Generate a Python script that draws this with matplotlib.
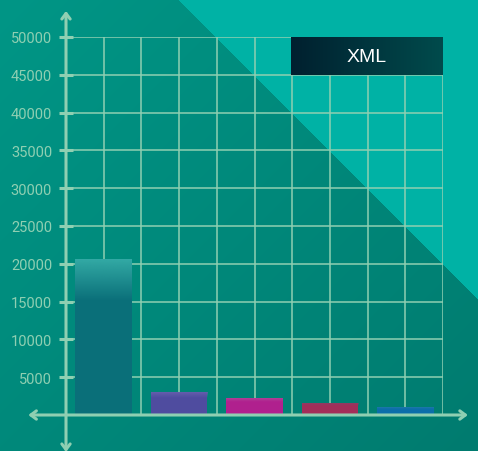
import numpy as np
import matplotlib
matplotlib.use("Agg")
import matplotlib.pyplot as plt
from matplotlib.colors import to_rgb

# datos
series = "XML"
posiciones = [1, 3, 5, 7, 9]
valores = [20700, 3050, 2300, 1550, 1000]
y_ticks = [5000, 10000, 15000, 20000, 25000, 30000, 35000, 40000, 45000, 50000]

colores = ["#0a6f79", "#4f4c9f", "#b0208e", "#a22e59", "#0b6eaa"]
colores_top = ["#36aea8", "#6a62b0", "#b04a9a", "#8a4068", "#2a80a8"]
verde = "#8fcfb2"

W, H = 478, 452
fig = plt.figure(figsize=(W / 100, H / 100), dpi=100)

# fondo con degradado y triangulo diagonal
bg = fig.add_axes([0, 0, 1, 1])
bg.set_axis_off()
yy, xx = np.mgrid[0:H, 0:W]
t = (xx + yy) / (W + H)
c1, c2 = np.array(to_rgb("#009686")), np.array(to_rgb("#007b6f"))
img = c1 * (1 - t[..., None]) + c2 * t[..., None]
img[(xx - yy) > 177] = to_rgb("#00b2a5")
bg.imshow(img, extent=[0, W, H, 0], aspect="auto", interpolation="nearest")
bg.set_xlim(0, W)
bg.set_ylim(H, 0)

ax = fig.add_axes([66 / W, (H - 416) / H, 377 / W, 378 / H])
ax.set_facecolor("none")
ax.set_xlim(0, 10)
ax.set_ylim(0, 50000)
for s in ax.spines.values():
    s.set_visible(False)

ax.set_xticks(range(1, 11))
ax.set_yticks(y_ticks)
ax.grid(True, color=verde, lw=1.1, zorder=1)
ax.set_axisbelow(True)
ax.tick_params(axis="x", length=0, labelbottom=False)
ax.tick_params(axis="y", direction="inout", length=10, width=2.2, color=verde,
               labelcolor=verde, labelsize=10.5, pad=5)
for lb in ax.get_yticklabels():
    lb.set_family("Roboto")

# ejes con flechas
flecha = dict(arrowstyle="<->,head_length=0.4,head_width=0.3", color=verde,
              lw=2.2, shrinkA=0, shrinkB=0)
ax.annotate("", xy=(10.66, 0), xytext=(-1.0, 0), arrowprops=flecha,
            annotation_clip=False, zorder=5)
ax.annotate("", xy=(0, 53450), xytext=(0, -4900), arrowprops=flecha,
            annotation_clip=False, zorder=5)

# barras con degradado en la parte superior
barras = ax.bar(posiciones, valores, width=1.5, color=colores, zorder=3)
for b, ct in zip(barras, colores_top):
    x0, h, w = b.get_x(), b.get_height(), b.get_width()
    prof = 0.27 * h
    n = 64
    grad = np.zeros((n, 1, 4))
    grad[..., :3] = to_rgb(ct)
    grad[:, 0, 3] = np.linspace(0.95, 0, n)
    im = ax.imshow(grad, extent=[x0, x0 + w, h - prof, h], aspect="auto",
                   interpolation="bilinear", zorder=4, origin="upper")
    im.set_clip_path(b)
ax.set_xlim(0, 10)
ax.set_ylim(0, 50000)

# leyenda
leg = fig.add_axes([291 / W, (H - 76) / H, 152 / W, 38 / H])
leg.set_axis_off()
g = np.linspace(0, 1, 100)[None, :, None]
lc1, lc2 = np.array(to_rgb("#00202f")), np.array(to_rgb("#004b4c"))
leg.imshow(lc1 * (1 - g) + lc2 * g, extent=[0, 1, 0, 1], aspect="auto")
leg.text(0.5, 0.5, series, color="white", fontsize=14, family="Liberation Sans",
         ha="center", va="center", transform=leg.transAxes)

fig.savefig("out.png", dpi=100)
